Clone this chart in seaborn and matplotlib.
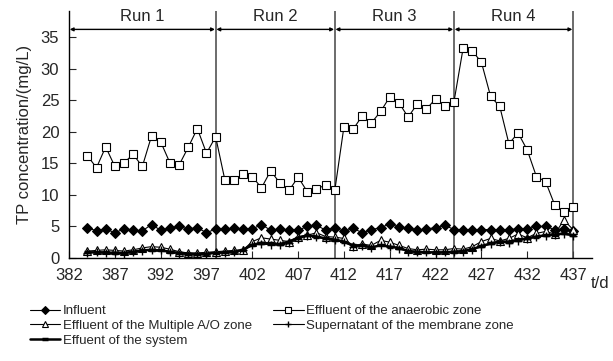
import seaborn as sns
import pandas as pd
import numpy as np
import matplotlib
matplotlib.use("Agg")
import matplotlib.pyplot as plt

# days of operation
days = list(range(384, 438))

influent = [4.8, 4.3, 4.6, 4.0, 4.6, 4.4, 4.3, 5.3, 4.4, 4.7, 5.0, 4.6, 4.8, 4.0, 4.6,
            4.6, 4.7, 4.6, 4.6, 5.3, 4.4, 4.6, 4.4, 4.4, 5.0, 5.2, 4.4, 4.8,
            4.2, 4.7, 4.0, 4.5, 4.8, 5.4, 4.9, 4.7, 4.4, 4.6, 4.8, 5.2, 4.5,
            4.5, 4.4, 4.5, 4.5, 4.4, 4.5, 4.6, 4.6, 5.0, 5.0, 4.5, 4.6, 4.2]
anaerobic = [16.2, 14.3, 17.6, 14.5, 15.1, 16.4, 14.5, 19.3, 18.4, 15.1, 14.7, 17.5, 20.5, 16.6, 19.2,
             12.4, 12.4, 13.3, 12.9, 11.1, 13.8, 11.9, 10.7, 12.8, 10.5, 11.0, 11.5, 10.7,
             20.8, 20.4, 22.5, 21.4, 23.2, 25.5, 24.6, 22.3, 24.4, 23.6, 25.2, 24.0, 24.7,
             33.2, 32.8, 31.0, 25.6, 24.0, 18.1, 19.8, 17.1, 12.9, 12.1, 8.4, 7.3, 8.1]
multi_ao = [1.1, 1.2, 1.3, 1.2, 1.1, 1.3, 1.6, 1.8, 1.7, 1.4, 1.0, 0.8, 0.8, 0.9, 1.0,
            1.1, 1.2, 1.3, 2.6, 3.2, 3.0, 2.8, 2.6, 3.4, 3.6, 4.0, 3.4, 3.3,
            3.1, 1.9, 2.2, 2.0, 2.8, 2.5, 2.0, 1.5, 1.3, 1.4, 1.3, 1.3, 1.5,
            1.4, 1.8, 2.6, 3.1, 2.7, 3.1, 3.8, 3.2, 3.9, 4.2, 3.8, 6.0, 4.5]
supernatant = [0.8, 0.9, 0.8, 0.9, 0.7, 0.9, 1.1, 1.3, 1.2, 0.9, 0.7, 0.5, 0.5, 0.6, 0.8,
               0.8, 0.9, 1.2, 2.0, 2.2, 2.1, 2.0, 2.3, 3.0, 3.5, 3.3, 3.0, 2.8,
               2.5, 1.8, 1.9, 1.6, 2.0, 1.8, 1.5, 1.0, 0.9, 0.9, 0.8, 0.9, 1.0,
               1.0, 1.3, 1.8, 2.2, 2.5, 2.4, 2.7, 3.0, 3.3, 3.5, 3.6, 3.8, 3.5]
system = [0.9, 0.9, 0.9, 0.8, 0.8, 1.0, 1.2, 1.3, 1.2, 1.0, 0.8, 0.7, 0.6, 0.7, 0.8,
          0.9, 1.0, 1.3, 2.1, 2.4, 2.3, 2.2, 2.6, 3.2, 3.6, 3.4, 3.1, 2.9,
          2.6, 2.0, 2.0, 1.7, 2.0, 1.8, 1.6, 1.1, 1.0, 0.9, 0.9, 0.9, 1.0,
          1.1, 1.4, 1.9, 2.3, 2.6, 2.6, 2.9, 3.1, 3.4, 3.6, 3.7, 3.9, 3.6]

run_bounds = [382, 398, 411, 424, 437]
run_labels = ["Run 1", "Run 2", "Run 3", "Run 4"]
xticks = list(range(382, 438, 5))
yticks = list(range(0, 36, 5))

df = pd.DataFrame({"day": days, "influent": influent, "anaerobic": anaerobic,
                   "multi_ao": multi_ao, "supernatant": supernatant, "system": system})

sns.set_style("ticks")
plt.rcParams['font.family'] = ['Liberation Sans', 'DejaVu Sans']

fig = plt.figure(figsize=(6.13, 3.61), dpi=100)
ax = fig.add_axes([0.1126, 0.2853, 0.8532, 0.684])

# run boundaries
for b in run_bounds[1:]:
    ax.axvline(b, color="#444444", lw=1.1, zorder=1)

sns.lineplot(data=df, x="day", y="influent", ax=ax, color="black", lw=0.8,
             marker="D", markersize=5.5, markerfacecolor="black", markeredgecolor="black",
             label="Influent", zorder=3)
sns.lineplot(data=df, x="day", y="multi_ao", ax=ax, color="black", lw=0.8,
             marker="^", markersize=6, markerfacecolor="white", markeredgecolor="black",
             markeredgewidth=0.8, label="Effluent of the Multiple A/O zone", zorder=3)
sns.lineplot(data=df, x="day", y="system", ax=ax, color="black", lw=1.8,
             marker="_", markersize=5, markeredgewidth=2.5, markeredgecolor="black",
             label="Effuent of the system", zorder=4)
sns.lineplot(data=df, x="day", y="anaerobic", ax=ax, color="black", lw=0.8,
             marker="s", markersize=6, markerfacecolor="white", markeredgecolor="black",
             markeredgewidth=0.8, label="Effluent of the anaerobic zone", zorder=3)
sns.lineplot(data=df, x="day", y="supernatant", ax=ax, color="black", lw=0.8,
             marker="+", markersize=6, markeredgewidth=1.0, markeredgecolor="black",
             label="Supernatant of the membrane zone", zorder=3)

# run arrows and labels
for i, lab in enumerate(run_labels):
    x0, x1 = run_bounds[i], run_bounds[i + 1]
    ax.annotate("", xy=(x0, 36.2), xytext=(x1, 36.2),
                arrowprops=dict(arrowstyle="<|-|>", color="black", lw=1,
                                mutation_scale=5, shrinkA=0.5, shrinkB=0.5),
                annotation_clip=False)
    ax.text((x0 + x1) / 2, 38.2, lab, ha="center", va="center", fontsize=12)

ax.set_xlim(382, 439.07)
ax.set_ylim(0, 39.1)
ax.set_xticks(xticks)
ax.set_yticks(yticks)
ax.tick_params(direction="in", length=5, width=0.8, labelsize=12, pad=7)
ax.set_xlabel("")
ax.set_ylabel("TP concentration/(mg/L)", fontsize=12, labelpad=6)
sns.despine(ax=ax)
for s in ["left", "bottom"]:
    ax.spines[s].set_linewidth(1.0)
    ax.spines[s].set_color("black")

fig.text(591 / 613, 1 - 284 / 361, "t/d", fontsize=12, ha="left", va="center")

handles, labels = ax.get_legend_handles_labels()
ax.get_legend().remove()
fig.legend(handles, labels, ncol=2, loc="upper left",
           bbox_to_anchor=(30 / 613, 1 - 305 / 361), frameon=False,
           fontsize=9.5, handlelength=2.3, handletextpad=0.2, labelspacing=0.2,
           columnspacing=1.6, borderpad=0, borderaxespad=0, markerscale=0.8)

fig.savefig("out.png", dpi=100)
